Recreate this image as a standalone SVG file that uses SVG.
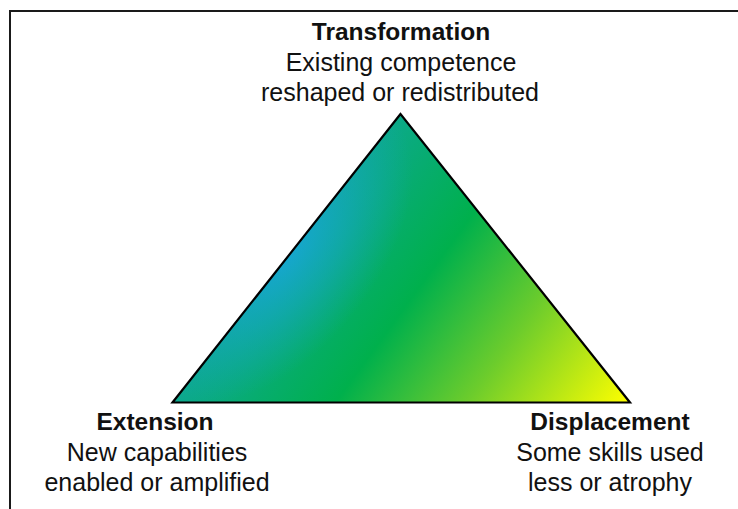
<svg xmlns="http://www.w3.org/2000/svg" width="738" height="509" viewBox="0 0 738 509">
  <style>
    .title { font-family: "Liberation Sans", Arial, sans-serif; font-size: 24.5px; font-weight: bold; fill: #111; text-anchor: middle; }
    .desc { font-family: "Liberation Sans", Arial, sans-serif; font-size: 25px; fill: #111; text-anchor: middle; }
  </style>
  <defs>
    <!-- main sweep: teal through green to yellow -->
    <linearGradient id="sweep" gradientUnits="userSpaceOnUse" x1="290" y1="227.5" x2="595" y2="450">
      <stop offset="0" stop-color="#0ea894"/>
      <stop offset="0.37" stop-color="#00b04c"/>
      <stop offset="0.65" stop-color="#6ccc2c"/>
      <stop offset="1" stop-color="#ffff00"/>
    </linearGradient>
    <!-- blue glow stretched along the left edge -->
    <radialGradient id="glow" gradientUnits="userSpaceOnUse" cx="0" cy="0" r="1"
                    gradientTransform="translate(282,252) rotate(-52) scale(175,95)">
      <stop offset="0" stop-color="#18a6e0" stop-opacity="0.85"/>
      <stop offset="0.5" stop-color="#18a6d8" stop-opacity="0.45"/>
      <stop offset="1" stop-color="#18a6d0" stop-opacity="0"/>
    </radialGradient>
  </defs>

  <!-- frame -->
  <path d="M10,520 V11 H745" fill="none" stroke="#1a1a1a" stroke-width="2"/>

  <!-- triangle -->
  <g id="triangle">
    <polygon points="400.5,114 172.5,402.5 630,402.5" fill="url(#sweep)"/>
    <polygon points="400.5,114 172.5,402.5 630,402.5" fill="url(#glow)"/>
    <polygon points="400.5,114 172.5,402.5 630,402.5" fill="none" stroke="#000" stroke-width="2.2" stroke-linejoin="miter"/>
  </g>

  <g id="transformation">
    <text class="title" x="401" y="40">Transformation</text>
    <text class="desc" x="401" y="71">Existing competence</text>
    <text class="desc" x="400" y="101">reshaped or redistributed</text>
  </g>

  <g id="extension">
    <text class="title" x="155" y="430">Extension</text>
    <text class="desc" x="157" y="461">New capabilities</text>
    <text class="desc" x="157" y="491">enabled or amplified</text>
  </g>

  <g id="displacement">
    <text class="title" x="610" y="430">Displacement</text>
    <text class="desc" x="610" y="461">Some skills used</text>
    <text class="desc" x="610" y="491">less or atrophy</text>
  </g>

  <g id="connectors"/>
</svg>
